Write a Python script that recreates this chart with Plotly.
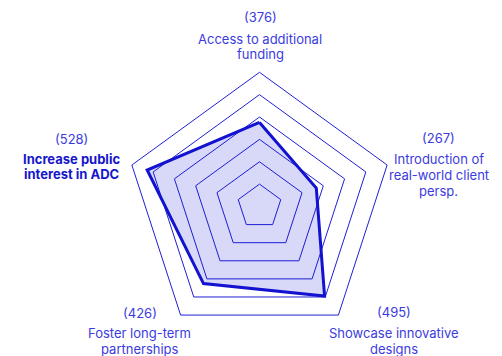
import plotly.graph_objects as go

categories = ["Access to additional funding", "Introduction of real-world client persp.",
              "Showcase innovative designs", "Foster long-term partnerships",
              "Increase public interest in ADC"]
label_lines = [["Access to additional", "funding"],
               ["Introduction of", "real-world client", "persp."],
               ["Showcase innovative", "designs"],
               ["Foster long-term", "partnerships"],
               ["Increase public", "interest in ADC"]]
values = [376, 267, 495, 426, 528]
grid_ticks = [100, 200, 300, 400, 500, 600]

W, H = 502, 356
BLUE = "#1f1fd6"
TEXT = "#3b3be0"
FONT = "Inter"
FS = 13

cx, cy, R = 259.5, 206.5, 134.2  # pixel center/radius of polar area

fig = go.Figure()
fig.add_trace(go.Scatterpolar(
    r=values + values[:1], theta=categories + categories[:1],
    mode="lines", fill="toself",
    fillcolor="rgba(25,25,215,0.17)",
    line=dict(color="#1212d0", width=3),
    hoverinfo="skip", showlegend=False))

fig.update_layout(
    width=W, height=H, margin=dict(l=0, r=0, t=0, b=0),
    paper_bgcolor="white", plot_bgcolor="white",
    polar=dict(
        domain=dict(x=[(cx - R) / W, (cx + R) / W],
                    y=[(H - cy - R) / H, (H - cy + R) / H]),
        bgcolor="white", gridshape="linear",
        radialaxis=dict(range=[0, 600], tickvals=grid_ticks, showticklabels=False,
                        ticks="", showline=False, gridcolor=BLUE, gridwidth=1),
        angularaxis=dict(direction="clockwise", rotation=90, showgrid=False,
                         showticklabels=False, ticks="", showline=True,
                         linecolor=BLUE, linewidth=1),
    ),
)

# label layout (pixel): center x, value-label center y, then centers of each name line
label_x = [260, 438.5, 394, 139.5, 71.7]
label_y = [[17.3, 38.8, 53.8],
           [138.3, 159.3, 175, 190.7],
           [311.7, 333.3, 348.8],
           [313.3, 333.3, 348.8],
           [139.3, 158.5, 174]]
imax = values.index(max(values))
for i, (lines, v) in enumerate(zip(label_lines, values)):
    x = label_x[i]
    ys = label_y[i]
    fig.add_annotation(x=x / W, y=1 - ys[0] / H, xref="paper", yref="paper",
                       text=f"({v})", showarrow=False, xanchor="center", yanchor="middle",
                       font=dict(family=FONT, size=FS, color=TEXT))
    bold = i == imax
    for line, ly in zip(lines, ys[1:]):
        fig.add_annotation(x=x / W, y=1 - ly / H, xref="paper", yref="paper",
                           text=f"<b>{line}</b>" if bold else line, showarrow=False,
                           xanchor="center", yanchor="middle",
                           font=dict(family=FONT, size=FS,
                                     color="#1616cc" if bold else TEXT))

fig.write_html("out.html", config={"displayModeBar": False},
               post_script="document.body.style.margin='0';")
